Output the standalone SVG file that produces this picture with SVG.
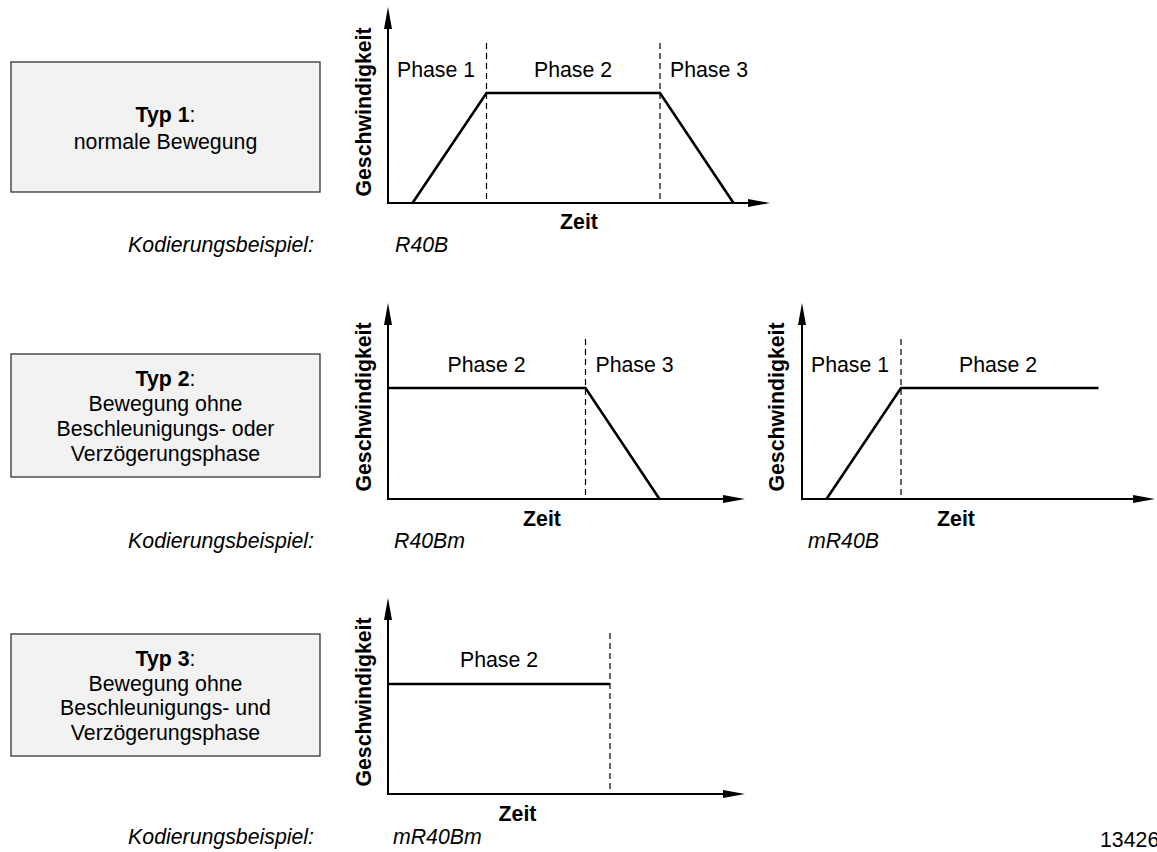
<svg xmlns="http://www.w3.org/2000/svg" width="1157" height="852" viewBox="0 0 1157 852">
  <defs>
    <marker id="arrow" markerUnits="userSpaceOnUse" markerWidth="22" markerHeight="8" refX="12" refY="4" orient="auto" overflow="visible">
      <path d="M0,0 L22,4 L0,8 Z" fill="#000"/>
    </marker>
    <style>
      text { font-family: "Liberation Sans", Arial, sans-serif; font-size: 21.3px; fill: #000; }
      .b { font-weight: bold; }
      .i { font-style: italic; }
      .c { text-anchor: middle; }
      .r { text-anchor: end; }
      .box { fill: #f2f2f2; stroke: #333; stroke-width: 1.3; }
      .axis { fill: none; stroke: #000; stroke-width: 2; marker-end: url(#arrow); }
      .curve { fill: none; stroke: #000; stroke-width: 2.6; stroke-linejoin: miter; }
      .dash { fill: none; stroke: #000; stroke-width: 1.2; stroke-dasharray: 6 4; }
    </style>
  </defs>

  <!-- type boxes -->
  <g id="typ1">
    <rect class="box" x="11" y="62" width="309" height="130"/>
    <text class="c" x="165.5" y="122"><tspan class="b">Typ 1</tspan>:</text>
    <text class="c" x="165.5" y="149">normale Bewegung</text>
  </g>
  <g id="typ2">
    <rect class="box" x="11" y="354" width="309" height="123"/>
    <text class="c" x="165.5" y="386"><tspan class="b">Typ 2</tspan>:</text>
    <text class="c" x="165.5" y="411">Bewegung ohne</text>
    <text class="c" x="165.5" y="436">Beschleunigungs- oder</text>
    <text class="c" x="165.5" y="461">Verzögerungsphase</text>
  </g>
  <g id="typ3">
    <rect class="box" x="11" y="634" width="309" height="122"/>
    <text class="c" x="165.5" y="666"><tspan class="b">Typ 3</tspan>:</text>
    <text class="c" x="165.5" y="691">Bewegung ohne</text>
    <text class="c" x="165.5" y="715">Beschleunigungs- und</text>
    <text class="c" x="165.5" y="740">Verzögerungsphase</text>
  </g>

  <!-- coding examples -->
  <g id="examples">
    <text class="i r" x="314" y="252">Kodierungsbeispiel:</text>
    <text class="i" x="395" y="252">R40B</text>
    <text class="i r" x="314" y="548">Kodierungsbeispiel:</text>
    <text class="i" x="394" y="548">R40Bm</text>
    <text class="i" x="808" y="548">mR40B</text>
    <text class="i r" x="314" y="844">Kodierungsbeispiel:</text>
    <text class="i" x="393" y="844">mR40Bm</text>
  </g>

  <!-- chart 1: full motion -->
  <g id="chart1">
    <path class="axis" d="M388,203 V17"/>
    <path class="axis" d="M387,203 H760"/>
    <line class="dash" x1="486.5" y1="43" x2="486.5" y2="203"/>
    <line class="dash" x1="660" y1="43" x2="660" y2="203"/>
    <path class="curve" d="M412.5,203 L486.5,93 L660,93 L733.5,203"/>
    <text class="b c" transform="translate(371,112) rotate(-90)">Geschwindigkeit</text>
    <text class="b c" x="579" y="229">Zeit</text>
    <text class="c" x="436" y="77">Phase 1</text>
    <text class="c" x="573" y="77">Phase 2</text>
    <text class="c" x="709" y="77">Phase 3</text>
  </g>

  <!-- chart 2: no acceleration phase -->
  <g id="chart2">
    <path class="axis" d="M388,499 V313"/>
    <path class="axis" d="M387,499 H735"/>
    <line class="dash" x1="585.5" y1="339" x2="585.5" y2="499"/>
    <path class="curve" d="M388,388 L585.5,388 L659.5,499"/>
    <text class="b c" transform="translate(371,407) rotate(-90)">Geschwindigkeit</text>
    <text class="b c" x="542" y="526">Zeit</text>
    <text class="c" x="486.5" y="372">Phase 2</text>
    <text class="c" x="634.5" y="372">Phase 3</text>
  </g>

  <!-- chart 3: no deceleration phase -->
  <g id="chart3">
    <path class="axis" d="M802,499 V313"/>
    <path class="axis" d="M801,499 H1145"/>
    <line class="dash" x1="901" y1="339" x2="901" y2="499"/>
    <path class="curve" d="M826.5,499 L901,388 L1098.5,388"/>
    <text class="b c" transform="translate(784,407) rotate(-90)">Geschwindigkeit</text>
    <text class="b c" x="956" y="526">Zeit</text>
    <text class="c" x="850" y="372">Phase 1</text>
    <text class="c" x="998" y="372">Phase 2</text>
  </g>

  <!-- chart 4: constant speed only -->
  <g id="chart4">
    <path class="axis" d="M388,794 V608"/>
    <path class="axis" d="M387,794 H735"/>
    <line class="dash" x1="610" y1="633" x2="610" y2="794"/>
    <path class="curve" d="M388,684 L610,684"/>
    <text class="b c" transform="translate(371,702) rotate(-90)">Geschwindigkeit</text>
    <text class="b c" x="517.5" y="821">Zeit</text>
    <text class="c" x="499" y="667">Phase 2</text>
  </g>

  <text x="1100" y="847">13426</text>
</svg>
